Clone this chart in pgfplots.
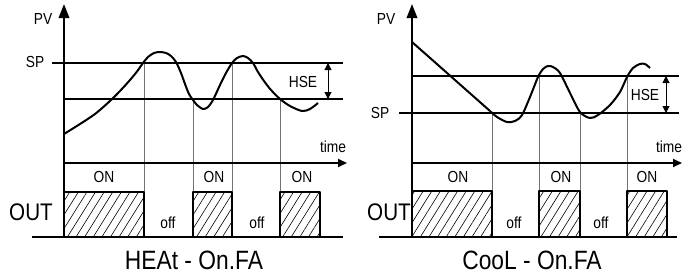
\documentclass[border=0pt]{standalone}
\usepackage{fontspec}
\setmainfont{Liberation Sans}[FakeStretch=0.86]
\usepackage{pgfplots}
\pgfplotsset{compat=1.18}
\usetikzlibrary{arrows.meta,patterns.meta}
\newcommand{\fsm}{\fontsize{16}{18}\selectfont}
\newcommand{\fbig}{\fontsize{24}{28}\selectfont}
\newcommand{\fttl}{\fontsize{26.5}{30}\selectfont}
\begin{document}
\begin{tikzpicture}
\begin{axis}[hide axis, scale only axis, x=1pt, y=1pt, y dir=reverse,
  xmin=0, xmax=688, ymin=0, ymax=276, clip=false,
  every axis plot/.append style={line join=round}]
\path (axis cs:0,0) rectangle (axis cs:688,276);
% ===== shared styles
\pgfplotsset{
  mainline/.style={black, line width=1.8pt, mark=none},
  thin/.style={black!55, line width=0.8pt, mark=none},
  bar/.style={black, line width=1.8pt, mark=none, pattern={Lines[angle=58,distance=7.3pt,line width=0.6pt]}},
  curve/.style={black, line width=2pt, mark=none, smooth, tension=0.5},
}
% ===================== LEFT PANEL (HEAt)
% thin verticals
\addplot[thin] coordinates {(144,63) (144,237)};
\addplot[thin] coordinates {(193,99) (193,237)};
\addplot[thin] coordinates {(232,63) (232,237)};
\addplot[thin] coordinates {(280,99) (280,237)};
% bars
\addplot[bar] coordinates {(64,237) (64,192) (144,192) (144,237)} -- cycle;
\addplot[bar] coordinates {(193,237) (193,192) (232,192) (232,237)} -- cycle;
\addplot[bar] coordinates {(280,237) (280,192) (320,192) (320,237)} -- cycle;
% horizontal lines
\addplot[mainline] coordinates {(52,63) (343,63)};
\addplot[mainline] coordinates {(64,99) (343,99)};
\addplot[mainline] coordinates {(32,237) (343,237)};
% axes
\addplot[mainline, -{Triangle[length=14pt,width=10.5pt]}] coordinates {(64,237) (64,4)};
\addplot[mainline, -{Triangle[length=9pt,width=8pt]}] coordinates {(64,163) (347,163)};
% HSE arrow
\addplot[black, line width=1pt, mark=none, {Triangle[length=7pt,width=7pt]}-{Triangle[length=7pt,width=7pt]}] coordinates {(328,63) (328,99)};
% PV curve
\addplot[curve] coordinates {(64,134) (80,124) (95,114) (110,101) (120,91) (130,80) (137,71.5) (143,63) (148,57) (154,53) (160,52) (166,53) (171,56) (176,62) (181,73) (185,84) (189,94) (193,100) (197,105) (203,109) (208,107) (213,100) (220,85) (226,73) (232,63) (237,58) (243,56) (248,58) (253,63) (258,72) (264,81) (271,90) (280,99) (290,106) (302,111) (310,109) (318,103)};
% labels
\node[font=\fsm] at (axis cs:43,19) {PV};
\node[font=\fsm] at (axis cs:35,62) {SP};
\node[font=\fsm] at (axis cs:303,82) {HSE};
\node[font=\fsm] at (axis cs:333,147) {time};
\node[font=\fsm] at (axis cs:104,177) {ON};
\node[font=\fsm] at (axis cs:214,177) {ON};
\node[font=\fsm] at (axis cs:302,177) {ON};
\node[font=\fsm] at (axis cs:168,223) {off};
\node[font=\fsm] at (axis cs:257,223) {off};
\node[font=\fbig] at (axis cs:31,212) {OUT};
\node[font=\fttl] at (axis cs:194,260) {HEAt - On.FA};
% ===================== RIGHT PANEL (CooL)
\addplot[thin] coordinates {(492,113) (492,237)};
\addplot[thin] coordinates {(539,76) (539,237)};
\addplot[thin] coordinates {(580,113) (580,237)};
\addplot[thin] coordinates {(627,76) (627,237)};
\addplot[bar] coordinates {(412,237) (412,191) (492,191) (492,237)} -- cycle;
\addplot[bar] coordinates {(539,237) (539,191) (580,191) (580,237)} -- cycle;
\addplot[bar] coordinates {(627,237) (627,191) (667,191) (667,237)} -- cycle;
\addplot[mainline] coordinates {(399,113) (679,113)};
\addplot[mainline] coordinates {(412,76) (679,76)};
\addplot[mainline] coordinates {(379,237) (677,237)};
\addplot[mainline, -{Triangle[length=14pt,width=10.5pt]}] coordinates {(412,237) (412,4)};
\addplot[mainline, -{Triangle[length=9pt,width=8pt]}] coordinates {(412,163) (682,163)};
\addplot[black, line width=1pt, mark=none, {Triangle[length=7pt,width=7pt]}-{Triangle[length=7pt,width=7pt]}] coordinates {(666,76) (666,113)};
\addplot[black, line width=2pt, mark=none] coordinates {(412,42) (490,111)};
\addplot[curve] coordinates {(490,111) (497,117) (507,122) (515,121) (522,115) (530,97) (538,77) (543,69) (548,66) (553,67) (560,73) (570,93) (580,112) (590,118) (598,115) (610,105) (620,92) (627,77) (633,68) (640,64) (645,64) (650,68)};
\node[font=\fsm] at (axis cs:386,19) {PV};
\node[font=\fsm] at (axis cs:380,113) {SP};
\node[font=\fsm] at (axis cs:645,95) {HSE};
\node[font=\fsm] at (axis cs:669,147) {time};
\node[font=\fsm] at (axis cs:458,177) {ON};
\node[font=\fsm] at (axis cs:561,177) {ON};
\node[font=\fsm] at (axis cs:647,177) {ON};
\node[font=\fsm] at (axis cs:514,223) {off};
\node[font=\fsm] at (axis cs:601,223) {off};
\node[font=\fbig] at (axis cs:389,212) {OUT};
\node[font=\fttl] at (axis cs:532,260) {CooL - On.FA};
\end{axis}
\end{tikzpicture}
\end{document}
